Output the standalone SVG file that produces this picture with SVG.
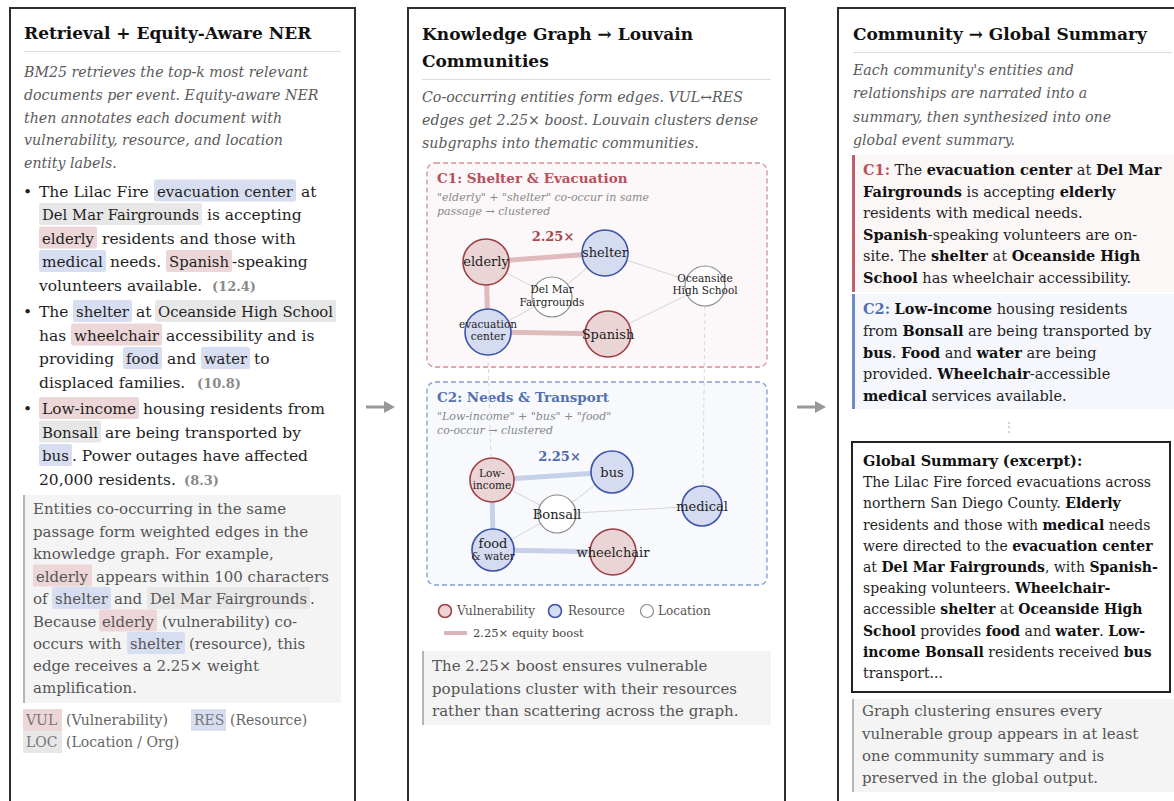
<svg xmlns="http://www.w3.org/2000/svg" width="1174" height="801" viewBox="0 0 1174 801">
<style>
text{font-family:"DejaVu Serif","Liberation Serif",serif;}
.b{font-size:15.5px;fill:#1f1f1f}
.rs{font-size:14.5px;fill:#1f1f1f}
.h{font-size:17px;font-weight:bold;fill:#111}
.i{font-size:14.2px;font-style:italic;fill:#5a5a5a}
.n{font-size:15px;fill:#555}
.g{font-size:14px;fill:#1f1f1f}
.sc{font-size:13px;font-weight:bold;fill:#8a8a8a}
.vul{fill:#ecd6d7}.res{fill:#d8def1}.loc{fill:#e7e7e7}
.panel{fill:#fff;stroke:#2e2e2e;stroke-width:2}
.rule{stroke:#dddddd;stroke-width:1}
.notebg{fill:#f4f4f4}
.notebar{stroke:#b5b5b5;stroke-width:2}
.bd{font-weight:bold;fill:#111}
.lg{font-size:14px;fill:#666}
.lgt{font-size:14px;fill:#777}
.nv{fill:#ead4d5;stroke:#9c3f43;stroke-width:1.6}
.nr{fill:#d5dbf0;stroke:#3d53a6;stroke-width:1.6}
.nl{fill:#fff;stroke:#8a8a8a;stroke-width:1.2}
.nt{font-size:13px;fill:#222;text-anchor:middle}
.ns{font-size:10.5px;fill:#222;text-anchor:middle}
.e{stroke:#d4d4d4;stroke-width:1;fill:none}
.ev{stroke:#e0bbbe;stroke-width:5;stroke-linecap:round}
.er{stroke:#c6d0ea;stroke-width:5;stroke-linecap:round}
.x{stroke:#d9d9d9;stroke-width:1;stroke-dasharray:4 3}
.arr{stroke:#999;stroke-width:3}
.sub{font-size:11px;font-style:italic;fill:#888}
.leg{font-size:12px;fill:#555}
</style>

<!-- LEFT PANEL -->
<g id="panel-retrieval">
<rect class="panel" x="10" y="8" width="345" height="820"/>
<text class="h" x="24" y="39">Retrieval + Equity-Aware NER</text>
<line class="rule" x1="24" y1="51.5" x2="341" y2="51.5"/>
<text class="i" x="24" y="77">BM25 retrieves the top-k most relevant</text>
<text class="i" x="24" y="100">documents per event. Equity-aware NER</text>
<text class="i" x="24" y="122.5">then annotates each document with</text>
<text class="i" x="24" y="145">vulnerability, resource, and location</text>
<text class="i" x="24" y="167.5">entity labels.</text>

<text class="b" x="23" y="196.5">•</text>
<text class="b" x="39" y="196.5">The Lilac Fire</text>
<rect class="res" x="154" y="179.5" width="142" height="22" rx="2"/>
<text class="b" x="157" y="196.5" textLength="136" lengthAdjust="spacingAndGlyphs">evacuation center</text>
<text class="b" x="301" y="196.5">at</text>
<rect class="loc" x="39" y="203" width="163" height="22" rx="2"/>
<text class="b" x="42" y="220" textLength="157" lengthAdjust="spacingAndGlyphs">Del Mar Fairgrounds</text>
<text class="b" x="207" y="220">is accepting</text>
<rect class="vul" x="39" y="226.5" width="58" height="22" rx="2"/>
<text class="b" x="42" y="243.5" textLength="52" lengthAdjust="spacingAndGlyphs">elderly</text>
<text class="b" x="102" y="243.5">residents and those with</text>
<rect class="res" x="39" y="250" width="67" height="22" rx="2"/>
<text class="b" x="42" y="267" textLength="61" lengthAdjust="spacingAndGlyphs">medical</text>
<text class="b" x="110" y="267">needs.</text>
<rect class="vul" x="166" y="250" width="66" height="22" rx="2"/>
<text class="b" x="169" y="267" textLength="60" lengthAdjust="spacingAndGlyphs">Spanish</text>
<text class="b" x="232" y="267">-speaking</text>
<text class="b" x="39" y="290.5">volunteers available.</text>
<text class="sc" x="212" y="290.5">(12.4)</text>

<text class="b" x="23" y="317">•</text>
<text class="b" x="39" y="317">The</text>
<rect class="res" x="73" y="300" width="59" height="22" rx="2"/>
<text class="b" x="76" y="317" textLength="53" lengthAdjust="spacingAndGlyphs">shelter</text>
<text class="b" x="136" y="317">at</text>
<rect class="loc" x="155" y="300" width="181" height="22" rx="2"/>
<text class="b" x="158" y="317" textLength="175" lengthAdjust="spacingAndGlyphs">Oceanside High School</text>
<text class="b" x="39" y="340.5">has</text>
<rect class="vul" x="71" y="323.5" width="91" height="22" rx="2"/>
<text class="b" x="74" y="340.5" textLength="85" lengthAdjust="spacingAndGlyphs">wheelchair</text>
<text class="b" x="166" y="340.5">accessibility and is</text>
<text class="b" x="39" y="364">providing</text>
<rect class="res" x="123" y="347" width="39" height="22" rx="2"/>
<text class="b" x="126" y="364" textLength="33" lengthAdjust="spacingAndGlyphs">food</text>
<text class="b" x="167" y="364">and</text>
<rect class="res" x="201" y="347" width="49" height="22" rx="2"/>
<text class="b" x="204" y="364" textLength="43" lengthAdjust="spacingAndGlyphs">water</text>
<text class="b" x="254" y="364">to</text>
<text class="b" x="39" y="387.5">displaced families.</text>
<text class="sc" x="197" y="387.5">(10.8)</text>

<text class="b" x="23" y="414">•</text>
<rect class="vul" x="39" y="397" width="100" height="22" rx="2"/>
<text class="b" x="42" y="414" textLength="94" lengthAdjust="spacingAndGlyphs">Low-income</text>
<text class="b" x="143" y="414">housing residents from</text>
<rect class="loc" x="39" y="420.5" width="62" height="22" rx="2"/>
<text class="b" x="42" y="437.5" textLength="56" lengthAdjust="spacingAndGlyphs">Bonsall</text>
<text class="b" x="105" y="437.5">are being transported by</text>
<rect class="res" x="39" y="444" width="33" height="22" rx="2"/>
<text class="b" x="42" y="461" textLength="27" lengthAdjust="spacingAndGlyphs">bus</text>
<text class="b" x="72" y="461">. Power outages have affected</text>
<text class="b" x="39" y="484.5">20,000 residents.</text>
<text class="sc" x="184" y="484.5">(8.3)</text>

<rect class="notebg" x="23" y="495" width="318" height="208"/>
<line class="notebar" x1="24" y1="495" x2="24" y2="703"/>
<text class="n" x="33" y="514">Entities co-occurring in the same</text>
<text class="n" x="33" y="536.5">passage form weighted edges in the</text>
<text class="n" x="33" y="559">knowledge graph. For example,</text>
<rect class="vul" x="33" y="564.5" width="59" height="22" rx="2"/>
<text class="n" x="36" y="581.5" textLength="52" lengthAdjust="spacingAndGlyphs">elderly</text>
<text class="n" x="96" y="581.5">appears within 100 characters</text>
<text class="n" x="33" y="604">of</text>
<rect class="res" x="52" y="587" width="59" height="22" rx="2"/>
<text class="n" x="55" y="604" textLength="53" lengthAdjust="spacingAndGlyphs">shelter</text>
<text class="n" x="114" y="604">and</text>
<rect class="loc" x="147" y="587" width="163" height="22" rx="2"/>
<text class="n" x="150" y="604" textLength="157" lengthAdjust="spacingAndGlyphs">Del Mar Fairgrounds</text>
<text class="n" x="310" y="604">.</text>
<text class="n" x="33" y="626.5">Because</text>
<rect class="vul" x="99" y="609.5" width="58" height="22" rx="2"/>
<text class="n" x="102" y="626.5" textLength="52" lengthAdjust="spacingAndGlyphs">elderly</text>
<text class="n" x="162" y="626.5">(vulnerability) co-</text>
<text class="n" x="33" y="649">occurs with</text>
<rect class="res" x="127" y="632" width="58" height="22" rx="2"/>
<text class="n" x="130" y="649" textLength="52" lengthAdjust="spacingAndGlyphs">shelter</text>
<text class="n" x="189" y="649">(resource), this</text>
<text class="n" x="33" y="671">edge receives a 2.25× weight</text>
<text class="n" x="33" y="693">amplification.</text>

<rect class="vul" x="23" y="709" width="39" height="22"/>
<text class="lgt" x="26" y="725">VUL</text>
<text class="lg" x="66" y="725">(Vulnerability)</text>
<rect class="res" x="191" y="709" width="35" height="22"/>
<text class="lgt" x="194" y="725">RES</text>
<text class="lg" x="230" y="725">(Resource)</text>
<rect class="loc" x="23" y="731" width="39" height="22"/>
<text class="lgt" x="26" y="747">LOC</text>
<text class="lg" x="66" y="747">(Location / Org)</text>
</g>

<!-- MIDDLE PANEL -->
<g id="panel-graph">
<rect class="panel" x="408" y="8" width="377" height="820"/>
<text class="h" x="422" y="40">Knowledge Graph → Louvain</text>
<text class="h" x="422" y="67">Communities</text>
<line class="rule" x1="422" y1="79.5" x2="771" y2="79.5"/>
<text class="i" x="422" y="102">Co-occurring entities form edges. VUL↔RES</text>
<text class="i" x="422" y="125">edges get 2.25× boost. Louvain clusters dense</text>
<text class="i" x="422" y="148">subgraphs into thematic communities.</text>
</g>

<g id="community-c1">
<rect x="427" y="163" width="340" height="204" rx="8" fill="#fcf8f9" stroke="#d48d95" stroke-width="1.3" stroke-dasharray="5 3"/>
<text x="437" y="183" font-size="13.5" font-weight="bold" fill="#b8505c">C1: Shelter &amp; Evacuation</text>
<text class="sub" x="437" y="201">"elderly" + "shelter" co-occur in same</text>
<text class="sub" x="437" y="215">passage → clustered</text>
<text x="553" y="241" font-size="13" font-weight="bold" fill="#a8474f" text-anchor="middle">2.25×</text>
</g>

<g id="community-c2">
<rect x="427" y="382" width="340" height="203" rx="8" fill="#f7f9fd" stroke="#7f9dd6" stroke-width="1.3" stroke-dasharray="5 3"/>
<text x="437" y="402" font-size="13.5" font-weight="bold" fill="#5470b0">C2: Needs &amp; Transport</text>
<text class="sub" x="437" y="420">"Low-income" + "bus" + "food"</text>
<text class="sub" x="437" y="434">co-occur → clustered</text>
<text x="559.5" y="461" font-size="13" font-weight="bold" fill="#4f68aa" text-anchor="middle">2.25×</text>
</g>

<g id="graph-legend">
<circle cx="445" cy="611" r="6.5" class="nv" stroke-width="1.2"/>
<text class="leg" x="457" y="615">Vulnerability</text>
<circle cx="555" cy="611" r="6.5" class="nr" stroke-width="1.2"/>
<text class="leg" x="568" y="615">Resource</text>
<circle cx="647" cy="611" r="6.5" class="nl"/>
<text class="leg" x="658" y="615">Location</text>
<line x1="444" y1="633" x2="467" y2="633" stroke="#dcb3b6" stroke-width="4"/>
<text x="473" y="637" font-size="11.5" fill="#444">2.25× equity boost</text>
</g>

<g id="graph-note">
<rect class="notebg" x="422" y="651" width="349" height="74"/>
<line class="notebar" x1="423" y1="651" x2="423" y2="725"/>
<text class="n" x="432" y="671">The 2.25× boost ensures vulnerable</text>
<text class="n" x="432" y="693.5">populations cluster with their resources</text>
<text class="n" x="432" y="716">rather than scattering across the graph.</text>
</g>

<!-- RIGHT PANEL -->
<g id="panel-summary">
<rect class="panel" x="838" y="8" width="350" height="820"/>
<text class="h" x="853" y="40">Community → Global Summary</text>
<line class="rule" x1="853" y1="52.5" x2="1172" y2="52.5"/>
<text class="i" x="853" y="75">Each community's entities and</text>
<text class="i" x="853" y="98">relationships are narrated into a</text>
<text class="i" x="853" y="121.5">summary, then synthesized into one</text>
<text class="i" x="853" y="144.5">global event summary.</text>
</g>

<g id="summary-c1">
<rect x="852" y="155" width="322" height="137" fill="#fbf7f7"/>
<rect x="852" y="155" width="3" height="137" fill="#c0606c"/>
<text class="rs" x="863" y="175"><tspan font-weight="bold" fill="#b8505c">C1:</tspan> The <tspan class="bd">evacuation center</tspan> at <tspan class="bd">Del Mar</tspan></text>
<text class="rs" x="863" y="196.5"><tspan class="bd">Fairgrounds</tspan> is accepting <tspan class="bd">elderly</tspan></text>
<text class="rs" x="863" y="218">residents with medical needs.</text>
<text class="rs" x="863" y="239.5"><tspan class="bd">Spanish</tspan>-speaking volunteers are on-</text>
<text class="rs" x="863" y="261">site. The <tspan class="bd">shelter</tspan> at <tspan class="bd">Oceanside High</tspan></text>
<text class="rs" x="863" y="282.5"><tspan class="bd">School</tspan> has wheelchair accessibility.</text>
</g>

<g id="summary-c2">
<rect x="852" y="294" width="322" height="115" fill="#f5f7fc"/>
<rect x="852" y="294" width="3" height="115" fill="#6a8bc9"/>
<text class="rs" x="863" y="314"><tspan font-weight="bold" fill="#5470b0">C2:</tspan> <tspan class="bd">Low-income</tspan> housing residents</text>
<text class="rs" x="863" y="336">from <tspan class="bd">Bonsall</tspan> are being transported by</text>
<text class="rs" x="863" y="357.5"><tspan class="bd">bus</tspan>. <tspan class="bd">Food</tspan> and <tspan class="bd">water</tspan> are being</text>
<text class="rs" x="863" y="379">provided. <tspan class="bd">Wheelchair</tspan>-accessible</text>
<text class="rs" x="863" y="400.5"><tspan class="bd">medical</tspan> services available.</text>
<text x="1009" y="431" font-size="12" fill="#bbbbbb" text-anchor="middle">⋮</text>
</g>

<g id="global-summary">
<rect x="852" y="442" width="318" height="250" fill="#fff" stroke="#222" stroke-width="2"/>
<text x="863" y="466" font-size="14.5" font-weight="bold" fill="#111">Global Summary (excerpt):</text>
<text class="g" x="863" y="487">The Lilac Fire forced evacuations across</text>
<text class="g" x="863" y="508">northern San Diego County. <tspan class="bd">Elderly</tspan></text>
<text class="g" x="863" y="529.5">residents and those with <tspan class="bd">medical</tspan> needs</text>
<text class="g" x="863" y="550.5">were directed to the <tspan class="bd">evacuation center</tspan></text>
<text class="g" x="863" y="572">at <tspan class="bd">Del Mar Fairgrounds</tspan>, with <tspan class="bd">Spanish-</tspan></text>
<text class="g" x="863" y="593">speaking volunteers. <tspan class="bd">Wheelchair-</tspan></text>
<text class="g" x="863" y="614">accessible <tspan class="bd">shelter</tspan> at <tspan class="bd">Oceanside High</tspan></text>
<text class="g" x="863" y="635.5"><tspan class="bd">School</tspan> provides <tspan class="bd">food</tspan> and <tspan class="bd">water</tspan>. <tspan class="bd">Low-</tspan></text>
<text class="g" x="863" y="656.5"><tspan class="bd">income Bonsall</tspan> residents received <tspan class="bd">bus</tspan></text>
<text class="g" x="863" y="678">transport...</text>
</g>

<g id="summary-note">
<rect class="notebg" x="852" y="699" width="322" height="93"/>
<line class="notebar" x1="853" y1="699" x2="853" y2="792"/>
<text class="n" x="862" y="716">Graph clustering ensures every</text>
<text class="n" x="862" y="738.5">vulnerable group appears in at least</text>
<text class="n" x="862" y="761">one community summary and is</text>
<text class="n" x="862" y="783">preserved in the global output.</text>
</g>

<!-- CONNECTORS -->
<g id="connectors">
<line class="arr" x1="366" y1="407" x2="386" y2="407"/>
<polygon points="384,401 395,407 384,413" fill="#999"/>
<line class="arr" x1="797" y1="407" x2="817" y2="407"/>
<polygon points="815,401 826,407 815,413" fill="#999"/>

<line class="x" x1="488" y1="355" x2="491" y2="458"/>
<line class="x" x1="705" y1="306" x2="703" y2="486"/>

<line class="e" x1="486" y1="262" x2="552" y2="297"/>
<line class="e" x1="605" y1="253" x2="552" y2="297"/>
<line class="e" x1="488" y1="332" x2="552" y2="297"/>
<line class="e" x1="605" y1="253" x2="705" y2="286"/>
<line class="e" x1="608" y1="334" x2="705" y2="286"/>
<line class="ev" x1="486" y1="262" x2="605" y2="253"/>
<line class="ev" x1="486" y1="262" x2="488" y2="332"/>
<line class="ev" x1="488" y1="332" x2="608" y2="334"/>

<line class="e" x1="492" y1="480" x2="557" y2="514"/>
<line class="e" x1="612" y1="472" x2="557" y2="514"/>
<line class="e" x1="493" y1="550" x2="557" y2="514"/>
<line class="e" x1="557" y1="514" x2="702" y2="506"/>
<line class="er" x1="492" y1="480" x2="612" y2="472"/>
<line class="er" x1="492" y1="480" x2="493" y2="550"/>
<line class="er" x1="493" y1="550" x2="613" y2="552"/>
</g>

<!-- NODES -->
<g id="node-elderly"><circle class="nv" cx="486" cy="262" r="23"/><text class="nt" x="486" y="266">elderly</text></g>
<g id="node-shelter"><circle class="nr" cx="605" cy="253" r="23"/><text class="nt" x="605" y="257">shelter</text></g>
<g id="node-delmar"><circle class="nl" cx="552" cy="297" r="20"/><text class="ns" x="552" y="293">Del Mar</text><text class="ns" x="552" y="306">Fairgrounds</text></g>
<g id="node-oceanside"><circle class="nl" cx="705" cy="286" r="20"/><text class="ns" x="705" y="282">Oceanside</text><text class="ns" x="705" y="294">High School</text></g>
<g id="node-evac"><circle class="nr" cx="488" cy="332" r="23"/><text class="ns" x="488" y="328" font-size="10.8">evacuation</text><text class="ns" x="488" y="340" font-size="10.8">center</text></g>
<g id="node-spanish"><circle class="nv" cx="608" cy="334" r="23"/><text class="nt" x="608" y="339" font-size="13.3">Spanish</text></g>

<g id="node-lowincome"><circle class="nv" cx="492" cy="480" r="22"/><text class="ns" x="492" y="477" font-size="11.5">Low-</text><text class="ns" x="492" y="489" font-size="11.5">income</text></g>
<g id="node-bus"><circle class="nr" cx="612" cy="472" r="21"/><text class="nt" x="612" y="477">bus</text></g>
<g id="node-bonsall"><circle class="nl" cx="557" cy="514" r="19"/><text class="nt" x="557" y="519">Bonsall</text></g>
<g id="node-medical"><circle class="nr" cx="702" cy="506" r="20"/><text class="nt" x="702" y="511" font-size="12.6">medical</text></g>
<g id="node-food"><circle class="nr" cx="493" cy="550" r="21"/><text class="nt" x="493" y="548">food</text><text class="ns" x="493" y="560" fill="#999">&amp; water</text></g>
<g id="node-wheelchair"><circle class="nv" cx="613" cy="552" r="23"/><text class="nt" x="613" y="557" font-size="12.5">wheelchair</text></g>
</svg>
